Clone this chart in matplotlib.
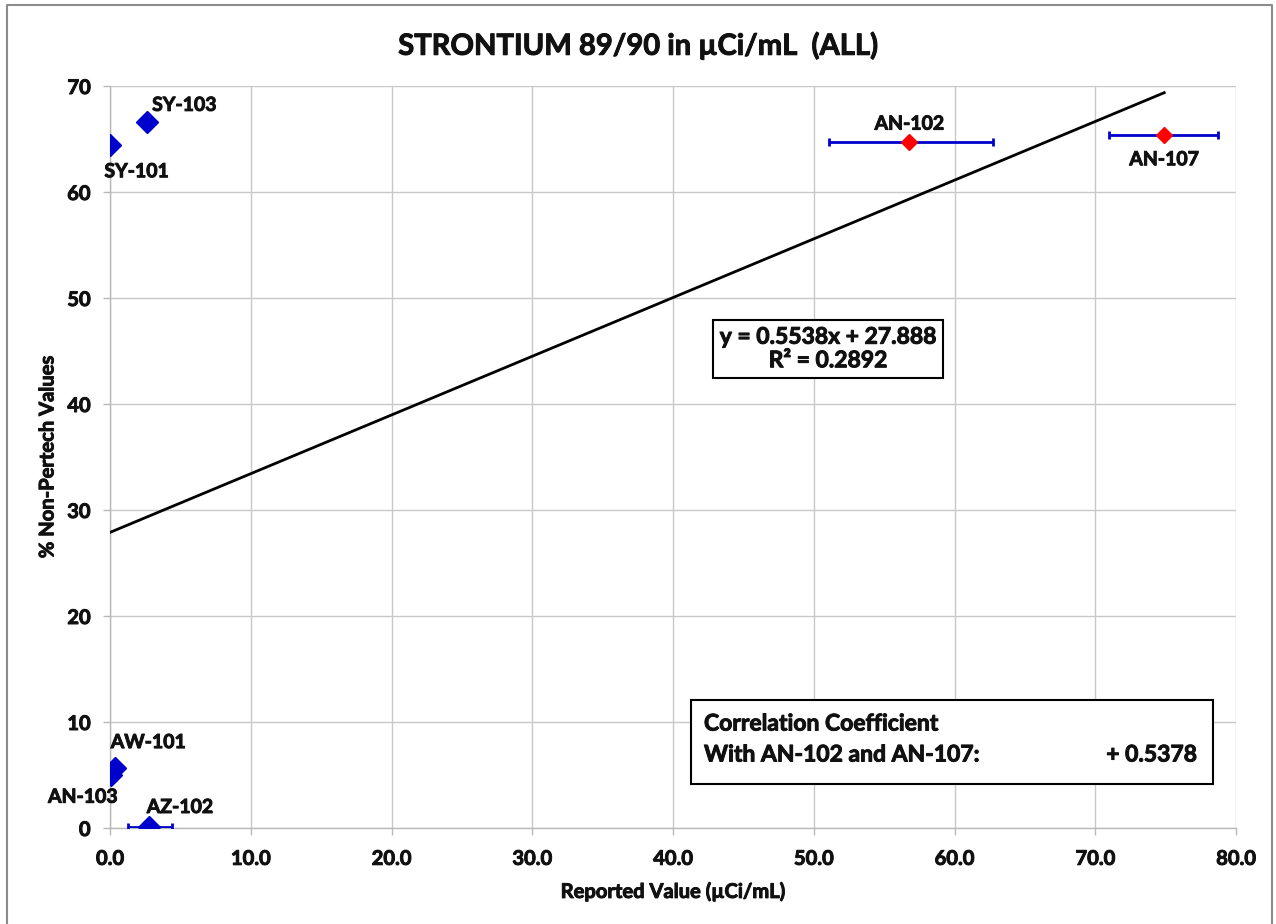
import matplotlib.pyplot as plt
import matplotlib.patheffects as pe
from matplotlib.lines import Line2D
import numpy as np

plt.rcParams['font.family'] = ['Lato', 'DejaVu Sans']

# Sample data: reported value vs % non-Pertech values
labels = ['SY-101', 'SY-103', 'AW-101', 'AN-103', 'AZ-102', 'AN-102', 'AN-107']
x_vals = [0.0, 2.6, 0.35, 0.05, 2.8, 56.8, 74.9]
y_vals = [64.4, 66.6, 5.7, 5.0, 0.1, 64.7, 65.4]
x_err_lo = [0.0, 0.0, 0.0, 0.0, 1.5, 5.7, 3.9]
x_err_hi = [0.0, 0.0, 0.0, 0.0, 1.6, 5.9, 3.8]
highlight = [False, False, False, False, False, True, True]

slope = 0.5538
intercept = 27.888
r2 = 0.2892
corr = 0.5378

# label placement (offset in points, horizontal alignment)
label_offsets = {
    'SY-101': (-4, -19, 'left'),
    'SY-103': (4, 12, 'left'),
    'AW-101': (-3, 18, 'left'),
    'AN-103': (-20, -16, 'center'),
    'AZ-102': (22, 14, 'center'),
    'AN-102': (0, 13, 'center'),
    'AN-107': (0, -18, 'center'),
}

W, H = 1276, 924
L, R, T, B = 110, 1236, 86, 828

fig = plt.figure(figsize=(W / 100, H / 100), dpi=100)
ax = fig.add_axes([L / W, 1 - B / H, (R - L) / W, (B - T) / H])

# outer chart frame (left, top and right edges)
frame_x = [7 / W, 7 / W, 1272 / W, 1272 / W]
frame_y = [0.0, 1 - 5 / H, 1 - 5 / H, 0.0]
fig.add_artist(Line2D(frame_x, frame_y, transform=fig.transFigure, color='#8c8c8c', linewidth=1.5))

# slightly heavier strokes for all bold text
heavy = [pe.withStroke(linewidth=0.7, foreground='#111111')]

def ax_x(px):
    return (px - L) / (R - L)

def ax_y(py):
    return (B - py) / (B - T)

# trend line
xs = np.array([0.0, max(x_vals)])
ax.plot(xs, slope * xs + intercept, color='black', linewidth=2, zorder=3)

blue = '#0000cc'
for i, lab in enumerate(labels):
    face = 'red' if highlight[i] else blue
    if x_err_lo[i] > 0 or x_err_hi[i] > 0:
        ax.errorbar([x_vals[i]], [y_vals[i]], xerr=[[x_err_lo[i]], [x_err_hi[i]]],
                    fmt='none', ecolor=blue, elinewidth=2, capsize=3, capthick=2, zorder=4)
    ms = 8 if highlight[i] else 11
    ax.plot(x_vals[i], y_vals[i], marker='D', markersize=ms, color=face,
            markeredgecolor=face, zorder=5, linestyle='none')
    dx, dy, ha = label_offsets[lab]
    ax.annotate(lab, (x_vals[i], y_vals[i]), xytext=(dx, dy), textcoords='offset points',
                ha=ha, va='center', fontsize=14, fontweight='bold', color='#111111', zorder=6,
                path_effects=heavy)

ax.set_xlim(0, 80)
ax.set_ylim(0, 70)
ax.set_xticks(np.arange(0, 81, 10))
ax.set_xticklabels([f'{v:.1f}' for v in np.arange(0, 81, 10)])
ax.set_yticks(np.arange(0, 71, 10))
ax.grid(True, color='#c8c8c8', linewidth=1.0)
ax.set_axisbelow(True)
for s in ['top', 'right']:
    ax.spines[s].set_visible(False)
for s in ['left', 'bottom']:
    ax.spines[s].set_color('#b8b8b8')
    ax.spines[s].set_linewidth(1.0)
ax.tick_params(axis='both', colors='#b8b8b8', labelcolor='#111111', length=5, width=1,
               labelsize=14.5)
ax.tick_params(axis='x', pad=10)
ax.tick_params(axis='y', pad=9)
for t in ax.get_xticklabels() + ax.get_yticklabels():
    t.set_fontweight('bold')
    t.set_path_effects(heavy)

ax.set_xlabel('Reported Value (µCi/mL)', fontsize=14.5, fontweight='bold', labelpad=9,
              color='#111111', path_effects=heavy)
ax.set_ylabel('% Non-Pertech Values', fontsize=14.5, fontweight='bold', labelpad=7,
              color='#111111', path_effects=heavy)
fig.text(0.5, 1 - 46 / H, 'STRONTIUM 89/90 in µCi/mL  (ALL)', ha='center', va='center',
         fontsize=21, fontweight='bold', color='#111111', path_effects=heavy)

# regression equation box
ax.text(ax_x(828), ax_y(349), f'y = {slope}x + {intercept}\nR² = {r2}', transform=ax.transAxes,
        ha='center', va='center', fontsize=16.5, fontweight='bold', linespacing=1.15,
        color='#111111', path_effects=heavy,
        bbox=dict(boxstyle='square,pad=0.3', facecolor='white', edgecolor='black', linewidth=1.5),
        zorder=7)

# correlation coefficient box
ax.add_patch(plt.Rectangle((ax_x(691), ax_y(784)), ax_x(1213) - ax_x(691), ax_y(700) - ax_y(784),
                           transform=ax.transAxes, facecolor='white', edgecolor='black',
                           linewidth=1.5, zorder=7))
ax.text(ax_x(704), ax_y(724), 'Correlation Coefficient', transform=ax.transAxes,
        ha='left', va='center', fontsize=16.5, fontweight='bold', color='#111111',
        path_effects=heavy, zorder=8)
ax.text(ax_x(704), ax_y(755), 'With AN-102 and AN-107:', transform=ax.transAxes,
        ha='left', va='center', fontsize=16.5, fontweight='bold', color='#111111',
        path_effects=heavy, zorder=8)
ax.text(ax_x(1197), ax_y(755), f'+ {corr}', transform=ax.transAxes,
        ha='right', va='center', fontsize=16.5, fontweight='bold', color='#111111',
        path_effects=heavy, zorder=8)

fig.savefig('out.png', dpi=100)
